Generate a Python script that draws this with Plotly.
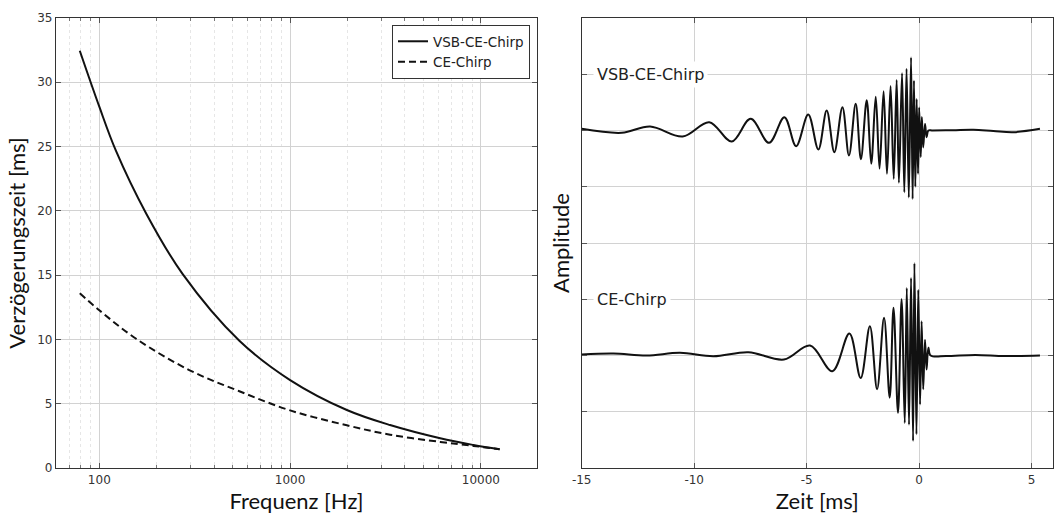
import plotly.graph_objects as go

# ---------------- data ----------------
# Left panel: delay time vs. frequency
freq_vsb = [79, 100, 122, 176, 273, 542, 1000, 1983, 3340, 6120, 9140, 12540]
delay_vsb = [32.45, 28.1, 24.7, 19.8, 15.1, 9.9, 6.84, 4.51, 3.34, 2.31, 1.79, 1.45]

freq_ce = [79, 100, 156, 296, 542, 1000, 1983, 3340, 6120, 9140, 12540]
delay_ce = [13.59, 12.27, 10.05, 7.62, 5.97, 4.48, 3.32, 2.59, 2.03, 1.72, 1.45]

freq_tickvals = [100, 1000, 10000]
freq_ticktext = ["100", "1000", "10000"]
freq_minor = [60, 70, 80, 90, 200, 300, 400, 500, 600, 700, 800, 900,
              2000, 3000, 4000, 5000, 6000, 7000, 8000, 9000]
delay_ticks = [0, 5, 10, 15, 20, 25, 30, 35]

# Right panel: waveforms (extrema), time in ms
t_vsb = [-15.0, -13.22, -11.96, -10.51, -9.33, -8.33, -7.49, -6.67, -5.99, -5.47,
         -4.93, -4.48, -4.11, -3.77, -3.41, -3.12, -2.82, -2.59, -2.33, -2.13,
         -1.93, -1.76, -1.58, -1.43, -1.27, -1.13, -1.00, -0.90, -0.76, -0.66,
         -0.56, -0.46, -0.36, -0.29, -0.23, -0.17, -0.11, -0.05, 0.00, 0.07,
         0.12, 0.18, 0.26, 0.33, 0.41, 0.60, 1.5, 2.41, 3.3, 4.19, 5.37]
amp_vsb = [0.03, -0.041, 0.071, -0.107, 0.148, -0.196, 0.207, -0.219, 0.237, -0.279,
           0.284, -0.338, 0.356, -0.385, 0.415, -0.444, 0.474, -0.51, 0.54, -0.59,
           0.60, -0.68, 0.70, -0.77, 0.79, -0.86, 0.90, -0.93, 1.02, -1.10,
           1.10, -1.19, 1.30, -1.22, 0.89, -1.0, 0.56, -0.77, 0.41, -0.47,
           0.24, -0.30, 0.12, -0.12, 0.0, 0.0, 0.005, 0.012, -0.01, -0.03, 0.03]

t_ce = [-15.0, -13.59, -12.11, -10.63, -9.15, -7.59, -6.01, -4.85, -3.86, -3.10,
        -2.60, -2.19, -1.87, -1.56, -1.31, -1.14, -0.94, -0.78, -0.64, -0.55,
        -0.45, -0.36, -0.27, -0.21, -0.12, -0.04, 0.04, 0.11, 0.18, 0.26,
        0.33, 0.41, 0.51, 1.2, 2.5, 3.8, 5.37]
amp_ce = [0.018, 0.036, 0.0, 0.047, -0.012, 0.059, -0.071, 0.178, -0.279, 0.391,
          -0.40, 0.52, -0.60, 0.67, -0.75, 0.85, -1.02, 1.0, -1.20, 1.20,
          -1.23, 1.38, -1.52, 1.64, -1.40, 1.17, -0.87, 0.61, -0.60, 0.28,
          -0.25, 0.14, 0.0, -0.01, 0.01, -0.01, 0.0]

time_tickvals = [-15, -10, -5, 0, 5]
time_ticktext = ["-15", "-10", "-5", "0", "5"]

series_names = ["VSB-CE-Chirp", "CE-Chirp"]
wave_offsets = [6, 2]   # vertical stacking of the two waveforms
label_levels = [7, 3]

# ---------------- figure ----------------
W, H = 1054, 518
TITLE_FONT = dict(family="Lato, Carlito, sans-serif", size=22, color="#111")
TICK_FONT = dict(family="DejaVu Sans", size=12, color="#333")
LINE_COL = "#111"

fig = go.Figure()

fig.add_trace(go.Scatter(x=freq_vsb, y=delay_vsb, mode="lines", name=series_names[0],
                         line=dict(color=LINE_COL, width=2, shape="spline"),
                         xaxis="x", yaxis="y"))
fig.add_trace(go.Scatter(x=freq_ce, y=delay_ce, mode="lines", name=series_names[1],
                         line=dict(color=LINE_COL, width=2, dash="7px,4px", shape="spline"),
                         xaxis="x", yaxis="y"))

fig.add_trace(go.Scatter(x=t_vsb, y=[wave_offsets[0] + a for a in amp_vsb], mode="lines",
                         line=dict(color=LINE_COL, width=2, shape="spline", smoothing=1.0),
                         showlegend=False, xaxis="x2", yaxis="y2"))
fig.add_trace(go.Scatter(x=t_ce, y=[wave_offsets[1] + a for a in amp_ce], mode="lines",
                         line=dict(color=LINE_COL, width=2, shape="spline", smoothing=1.0),
                         showlegend=False, xaxis="x2", yaxis="y2"))

ydom = [(H - 468) / H, (H - 18) / H]
axis_common = dict(showline=True, linecolor="#333", linewidth=1.3, mirror="ticks",
                   ticks="inside", ticklen=5, tickcolor="#555", tickwidth=1,
                   showgrid=True, gridcolor="#d2d2d2", gridwidth=1, zeroline=False,
                   tickfont=TICK_FONT, automargin=False)

fig.update_layout(
    width=W, height=H,
    margin=dict(l=0, r=0, t=0, b=0),
    paper_bgcolor="white", plot_bgcolor="white",
    showlegend=True,
    xaxis=dict(axis_common, domain=[56 / W, 537 / W], type="log",
               range=[1.773, 4.294], tickvals=freq_tickvals, ticktext=freq_ticktext,
               minor=dict(tickvals=freq_minor, ticks="inside", ticklen=3, tickcolor="#777",
                          showgrid=True, gridcolor="#e6e6e6", griddash="dot"),
               title=dict(text="Frequenz [Hz]", font=TITLE_FONT, standoff=8)),
    yaxis=dict(axis_common, domain=ydom, range=[0, 35], tickvals=delay_ticks,
               title=dict(text="Verzögerungszeit [ms]", font=TITLE_FONT, standoff=5)),
    xaxis2=dict(axis_common, domain=[581.7 / W, 1053 / W], anchor="y2",
                range=[-15, 5.95], tickvals=time_tickvals, ticktext=time_ticktext,
                title=dict(text="Zeit [ms]", font=TITLE_FONT, standoff=8)),
    yaxis2=dict(axis_common, domain=ydom, anchor="x2", range=[0, 8], dtick=1, tick0=0,
                showticklabels=False,
                title=dict(text="Amplitude", font=TITLE_FONT, standoff=4)),
    legend=dict(x=530 / W, xanchor="right", y=(H - 25) / H, yanchor="top",
                bgcolor="white", bordercolor="#333", borderwidth=1,
                font=dict(family="DejaVu Sans", size=13.5, color="#222"),
                itemwidth=30, tracegroupgap=0),
)

for name, lvl in zip(series_names, label_levels):
    fig.add_annotation(x=-14.5, y=lvl, xref="x2", yref="y2", text=name, showarrow=False,
                       xanchor="left", yanchor="middle", bgcolor="white", borderpad=3,
                       font=dict(family="DejaVu Sans", size=16, color="#222"))

fig.write_html("out.html")
